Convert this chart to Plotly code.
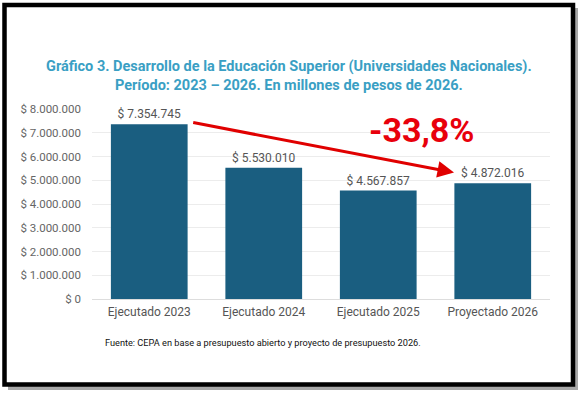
import plotly.graph_objects as go

categories = ["Ejecutado 2023", "Ejecutado 2024", "Ejecutado 2025", "Proyectado 2026"]
values = [7354745, 5530010, 4567857, 4872016]
title_lines = ["Gráfico 3. Desarrollo de la Educación Superior (Universidades Nacionales).",
               "Período: 2023 – 2026. En millones de pesos de 2026."]
change_label = "-33,8%"
source_text = "Fuente: CEPA en base a presupuesto abierto y proyecto de presupuesto 2026."

W, H = 584, 396
L, R, T, B = 92, 34, 109, 97
PW, PH = W - L - R, H - T - B

def px(x):
    return (x - L) / PW

def py(y):
    return (H - B - y) / PH

fig = go.Figure()
fig.add_trace(go.Bar(
    x=categories, y=values,
    marker=dict(color="#1a5e80", line=dict(width=0)),
    texttemplate="$ %{y:,.0f}", textposition="outside",
    textfont=dict(family="Roboto", size=12, color="#555555"),
    cliponaxis=False, width=0.67, hoverinfo="skip",
))

fig.update_layout(
    width=W, height=H,
    margin=dict(l=L, r=R, t=T, b=B, pad=0),
    paper_bgcolor="white", plot_bgcolor="rgba(0,0,0,0)",
    separators=",.",
    showlegend=False,
    font=dict(family="Roboto", color="#555555"),
    xaxis=dict(showgrid=False, showline=False, ticks="",
               tickfont=dict(family="Roboto", size=12, color="#555555"),
               ticklabelstandoff=4),
    yaxis=dict(range=[0, 8000000], dtick=1000000, tickformat=",d", tickprefix="$ ",
               showgrid=True, gridcolor="#ececec", gridwidth=1,
               zeroline=True, zerolinecolor="#dddddd", zerolinewidth=1,
               showline=False, ticks="",
               tickfont=dict(family="Roboto", size=11.5, color="#666666"),
               ticklabelstandoff=10),
)

shapes = [
    dict(type="rect", xref="paper", yref="paper", layer="below",
         x0=px(8), x1=px(578), y0=py(8), y1=py(390),
         fillcolor="#a8a8a8", line=dict(width=0)),
    dict(type="rect", xref="paper", yref="paper", layer="below",
         x0=px(4.5), x1=px(573), y0=py(5), y1=py(384.5),
         fillcolor="white", line=dict(color="black", width=4.5)),
]
fig.update_layout(shapes=shapes)

annotations = [
    dict(text="<b>" + title_lines[0] + "</b><br><b>" + title_lines[1] + "</b>",
         xref="paper", yref="paper", x=px(289), y=py(76), xanchor="center", yanchor="middle",
         showarrow=False, align="center",
         font=dict(family="Roboto", size=14.5, color="#3a9fc4")),
    dict(text="<b>" + change_label + "</b>",
         xref="paper", yref="paper", x=px(421.7), y=py(129.5), xanchor="center", yanchor="middle",
         showarrow=False, font=dict(family="Roboto", size=34, color="#e8000b")),
    dict(text="", xref="paper", yref="paper", x=px(454), y=py(172.5),
         ax=191.7 - 454, ay=122.3 - 172.5, showarrow=True,
         arrowhead=2, arrowsize=1.1, arrowwidth=3, arrowcolor="#e00000", standoff=0),
    dict(text=source_text, xref="paper", yref="paper", x=px(262.5), y=py(342),
         xanchor="center", yanchor="middle", showarrow=False,
         font=dict(family="Roboto", size=9.2, color="#111111")),
]
fig.update_layout(annotations=annotations)

fig.write_html("out.html", config={"displayModeBar": False},
               post_script="document.body.style.margin='0';document.body.style.overflow='hidden';")
